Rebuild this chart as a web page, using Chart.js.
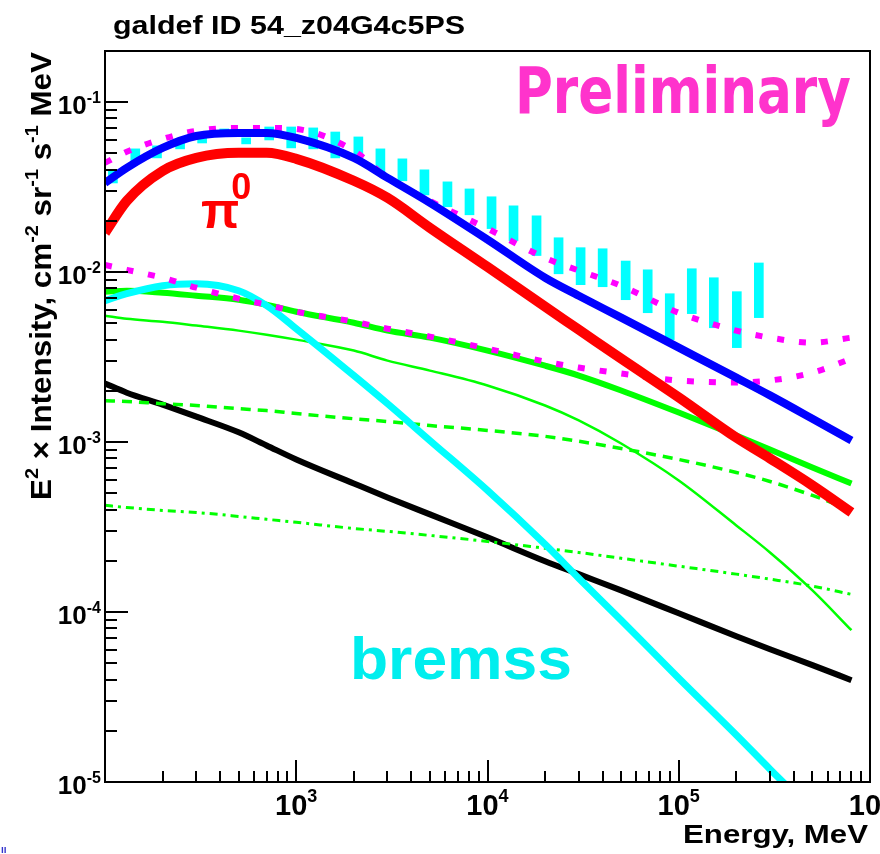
<!DOCTYPE html>
<html>
<head>
<meta charset="utf-8">
<title>galdef ID 54_z04G4c5PS</title>
<script src="https://cdn.jsdelivr.net/npm/chart.js@4.4.1/dist/chart.umd.min.js"></script>
<style>
  html, body { margin: 0; padding: 0; background: #fff; }
  canvas { display: block; }
</style>
</head>
<body>
<canvas id="spectrum" width="880" height="854"></canvas>
<script>
// Energy grid of the model curves, MeV
const energy = [100, 130, 200, 300, 500, 700, 1000, 2000, 3000, 5000, 1e4, 2e4, 3e4, 5e4, 1e5, 2e5, 3e5, 5e5, 8e5];

// E^2 x intensity, cm^-2 sr^-1 s^-1 MeV
const totalModel   = [0.0334, 0.0410, 0.0537, 0.0631, 0.0658, 0.0658, 0.0615, 0.0469, 0.0358, 0.0255, 0.0155, 0.00925, 0.00725, 0.00539, 0.00359, 0.00239, 0.00188, 0.00137, 0.00102];
const pionDecay    = [0.0170, 0.0262, 0.0393, 0.0469, 0.0502, 0.0502, 0.0463, 0.0344, 0.0273, 0.0182, 0.0107, 0.00625, 0.00458, 0.00309, 0.00183, 0.00106, 8.0e-4, 5.55e-4, 3.85e-4];
const totalUpper   = [0.0438, 0.0509, 0.0606, 0.0676, 0.0704, 0.0704, 0.0694, 0.0516, 0.0358, 0.0262, 0.0180, 0.0121, 0.0102, 0.0083, 0.00576, 0.00452, 0.00411, 0.00384, 0.00411];
const totalLower   = [0.0110, 0.0103, 0.00925, 0.00808, 0.00697, 0.00642, 0.00584, 0.0051, 0.00464, 0.00417, 0.00354, 0.00297, 0.00274, 0.00253, 0.0023, 0.00224, 0.0023, 0.00256, 0.00309];
const bremss       = [0.00678, 0.00745, 0.0083, 0.00853, 0.00776, 0.00634, 0.00464, 0.00246, 0.00168, 0.00102, 5.19e-4, 2.5e-4, 1.58e-4, 8.95e-5, 4.08e-5, 1.89e-5, 1.19e-5, 6.76e-6, 3.99e-6];
const extragalactic = [0.00221, 0.00195, 0.00166, 0.00141, 0.00114, 9.54e-4, 7.89e-4, 5.70e-4, 4.72e-4, 3.75e-4, 2.75e-4, 1.99e-4, 1.67e-4, 1.34e-4, 9.83e-5, 7.2e-5, 6.04e-5, 4.87e-5, 3.97e-5];
const icTotal      = [0.00766, 0.00776, 0.00755, 0.00725, 0.00687, 0.00642, 0.00584, 0.00503, 0.00452, 0.00411, 0.00345, 0.00281, 0.00246, 0.00201, 0.00149, 0.00109, 9.03e-4, 7.08e-4, 5.70e-4];
const icOptical    = [0.00553, 0.00531, 0.0051, 0.00484, 0.00452, 0.00428, 0.0040, 0.00345, 0.00301, 0.00263, 0.00215, 0.00164, 0.00134, 9.8e-4, 5.94e-4, 3.23e-4, 2.24e-4, 1.34e-4, 7.81e-5];
const icInfrared   = [0.00175, 0.00173, 0.00168, 0.00164, 0.00157, 0.00153, 0.00147, 0.00137, 0.00132, 0.00125, 0.00117, 0.00108, 0.00101, 9.16e-4, 7.89e-4, 6.62e-4, 5.86e-4, 4.85e-4, 3.96e-4];
const icCmb        = [4.24e-4, 4.12e-4, 3.96e-4, 3.85e-4, 3.65e-4, 3.51e-4, 3.37e-4, 3.10e-4, 2.98e-4, 2.82e-4, 2.60e-4, 2.37e-4, 2.24e-4, 2.07e-4, 1.86e-4, 1.67e-4, 1.56e-4, 1.42e-4, 1.27e-4];

// Measured points (shown as error boxes)
const barEnergy = [110, 144, 187, 247, 322, 420, 547, 722, 941, 1227, 1600, 2112, 2754, 3589, 4680, 6175, 8050, 10500, 13680, 18050, 23530, 30680, 40000, 52780, 68810, 89730, 117000, 152500, 201200, 262300];
const barHigh = [0.0393, 0.0530, 0.0552, 0.0574, 0.0615, 0.0694, 0.0615, 0.0713, 0.0713, 0.0704, 0.0666, 0.0623, 0.0530, 0.0463, 0.0399, 0.0339, 0.0308, 0.0277, 0.0245, 0.0214, 0.0159, 0.0139, 0.0137, 0.0116, 0.0103, 0.00745, 0.01045, 0.00925, 0.00766, 0.0113];
const barLow  = [0.0334, 0.0450, 0.0469, 0.0530, 0.0574, 0.0658, 0.0567, 0.0598, 0.0537, 0.0530, 0.0469, 0.0469, 0.0383, 0.0344, 0.0284, 0.0242, 0.0217, 0.0180, 0.0153, 0.0125, 0.00976, 0.00842, 0.00819, 0.00687, 0.00576, 0.0040, 0.00569, 0.0047, 0.00359, 0.00539];

// Axis ticks
const xTickValues = [1e3, 1e4, 1e5, 1e6];
const xTickLabels = ['10^3', '10^4', '10^5', '10^6'];
const yTickValues = [1e-5, 1e-4, 1e-3, 1e-2, 1e-1];
const yTickLabels = ['10^-5', '10^-4', '10^-3', '10^-2', '10^-1'];

const FONT = '"Liberation Sans", Arial, Helvetica, sans-serif';

document.addEventListener('DOMContentLoaded', function() {
    drawChart();
});

function points(ys) {
    return energy.map((e, i) => ({ x: e, y: ys[i] }));
}

function curve(label, ys, color, width, dash, order) {
    return {
        type: 'line',
        label: label,
        data: points(ys),
        borderColor: color,
        backgroundColor: color,
        borderWidth: width,
        borderDash: dash || [],
        borderCapStyle: 'butt',
        pointRadius: 0,
        fill: false,
        cubicInterpolationMode: 'monotone',
        clip: 0,
        order: order
    };
}

// draws text made of [string, isSuperscript] parts, optionally stretched to a width
function drawRich(ctx, parts, x, y, size, opts) {
    opts = opts || {};
    const supSize = Math.round(size * (opts.supRatio || 0.62));
    const raise = size * (opts.raise || 0.42);
    let w = 0;
    parts.forEach(p => {
        ctx.font = 'bold ' + (p[1] ? supSize : size) + 'px ' + (opts.family || FONT);
        w += ctx.measureText(p[0]).width;
    });
    const sx = opts.width ? opts.width / w : 1;
    const total = w * sx;
    let startX = x;
    if (opts.align === 'right') startX = x - total;
    if (opts.align === 'center') startX = x - total / 2;
    ctx.save();
    ctx.translate(startX, y);
    ctx.scale(sx, 1);
    ctx.fillStyle = opts.color || '#000';
    ctx.textBaseline = 'alphabetic';
    ctx.textAlign = 'left';
    let cx = 0;
    parts.forEach(p => {
        ctx.font = 'bold ' + (p[1] ? supSize : size) + 'px ' + (opts.family || FONT);
        ctx.fillText(p[0], cx, p[1] ? -raise : 0);
        cx += ctx.measureText(p[0]).width - (p[1] ? 0 : (opts.kern || 0));
    });
    ctx.restore();
}

function powerParts(label) {
    const bits = label.split('^');
    return [[bits[0], false], [bits[1], true]];
}

const rootFrame = {
    id: 'rootFrame',
    beforeDraw(chart) {
        const ctx = chart.ctx;
        ctx.save();
        ctx.fillStyle = '#fff';
        ctx.fillRect(0, 0, chart.width, chart.height);
        ctx.restore();
    },
    afterDatasetsDraw(chart) {
        const ctx = chart.ctx;
        const area = chart.chartArea;
        const xs = chart.scales.x;
        const ys = chart.scales.y;

        // text annotations inside the frame
        drawRich(ctx, [['Preliminary', false]], 515, 113, 64,
            { width: 336, color: '#ff33cc', family: '"Comic Sans MS", "DejaVu Sans", sans-serif' });
        drawRich(ctx, [['\u03c0', false], ['0', true]], 201, 228, 50,
            { color: '#ff0000', supRatio: 0.72, raise: 0.58, kern: 8 });
        drawRich(ctx, [['bremss', false]], 350, 679, 60, { width: 222, color: '#00eeee' });

        ctx.save();
        ctx.strokeStyle = '#000';
        ctx.lineWidth = 2;
        ctx.strokeRect(area.left, area.top, area.right - area.left, area.bottom - area.top);

        // logarithmic ticks pointing into the frame
        ctx.beginPath();
        for (let d = 2; d <= 6; d++) {
            for (let m = 1; m <= 9; m++) {
                const v = m * Math.pow(10, d);
                if (v < xs.min || v > xs.max) continue;
                const px = Math.round(xs.getPixelForValue(v));
                const len = m === 1 ? 22 : 11;
                ctx.moveTo(px, area.bottom);
                ctx.lineTo(px, area.bottom - len);
            }
        }
        for (let d = -5; d <= -1; d++) {
            for (let m = 1; m <= 9; m++) {
                const v = m * Math.pow(10, d);
                if (v < ys.min || v > ys.max) continue;
                const py = Math.round(ys.getPixelForValue(v));
                const len = m === 1 ? 23 : 12;
                ctx.moveTo(area.left, py);
                ctx.lineTo(area.left + len, py);
            }
        }
        ctx.stroke();
        ctx.restore();
    },
    afterDraw(chart) {
        const ctx = chart.ctx;
        const area = chart.chartArea;
        const xs = chart.scales.x;
        const ys = chart.scales.y;

        xTickValues.forEach((v, i) => {
            drawRich(ctx, powerParts(xTickLabels[i]), xs.getPixelForValue(v), area.bottom + 33, 29,
                { align: 'center', raise: 0.45, supRatio: 0.62 });
        });
        yTickValues.forEach((v, i) => {
            drawRich(ctx, powerParts(yTickLabels[i]), area.left - 4, ys.getPixelForValue(v) + 12, 26,
                { align: 'right', raise: 0.42, supRatio: 0.62 });
        });

        // title and axis titles
        drawRich(ctx, [['galdef ID 54_z04G4c5PS', false]], 113, 34, 26, { width: 352 });
        drawRich(ctx, [['Energy, MeV', false]], 868, 843, 25, { width: 185, align: 'right' });

        ctx.save();
        ctx.translate(51, 500);
        ctx.rotate(-Math.PI / 2);
        drawRich(ctx, [['E', false], ['2', true], [' \u00d7 Intensity, cm', false], ['-2', true],
            [' sr', false], ['-1', true], [' s', false], ['-1', true], [' MeV', false]],
            0, 0, 30, { width: 448, raise: 0.42 });
        ctx.restore();

        ctx.save();
        ctx.fillStyle = '#3333cc';
        ctx.font = 'bold 10px ' + FONT;
        ctx.fillText('ıı', 1, 853);
        ctx.restore();
    }
};

function drawChart() {
    const ctx = document.getElementById('spectrum').getContext('2d');

    const measured = {
        type: 'bar',
        label: 'data',
        data: barEnergy.map((e, i) => ({ x: e, y: [barLow[i], barHigh[i]] })),
        backgroundColor: '#00ffff',
        borderWidth: 0,
        barThickness: 9,
        grouped: false,
        clip: 0,
        order: 20
    };

    new Chart(ctx, {
        type: 'line',
        data: {
            datasets: [
                measured,
                curve('extragalactic', extragalactic, '#000000', 6, null, 9),
                curve('IC CMB', icCmb, '#00ff00', 3, [8, 5, 3, 5], 8),
                curve('IC infrared', icInfrared, '#00ff00', 3.5, [10, 7], 7),
                curve('IC optical', icOptical, '#00ff00', 2.5, null, 6),
                curve('IC total', icTotal, '#00ff00', 6, null, 5),
                curve('bremss', bremss, '#00ffff', 7, null, 4),
                curve('total lower', totalLower, '#ff00ff', 6, [7, 15], 3),
                curve('pi0', pionDecay, '#ff0000', 10, null, 2),
                curve('total upper', totalUpper, '#ff00ff', 6, [7, 15], 1),
                curve('total', totalModel, '#0000ff', 8, null, 0)
            ]
        },
        options: {
            responsive: false,
            animation: false,
            devicePixelRatio: 1,
            layout: { padding: { left: 105, top: 51, right: 10, bottom: 72 } },
            plugins: { legend: { display: false }, tooltip: { enabled: false } },
            scales: {
                x: { type: 'logarithmic', min: 100, max: 1e6, offset: false, display: false },
                y: { type: 'logarithmic', min: 1e-5, max: 0.1995, display: false }
            }
        },
        plugins: [rootFrame]
    });
}
</script>
</body>
</html>
